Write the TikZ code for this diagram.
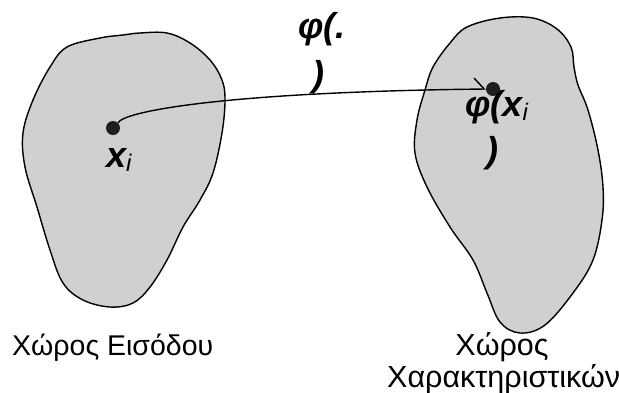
\documentclass[tikz,border=0pt]{standalone}
\usepackage{fontspec}
\setmainfont{Liberation Sans}
\usetikzlibrary{arrows.meta}
\definecolor{blobgray}{RGB}{208,208,208}
\definecolor{dotcol}{RGB}{30,30,30}
\newcommand{\subi}{\textmd{\fontsize{24}{26}\selectfont\itshape\raisebox{-4pt}{i}}}
\begin{document}
\begin{tikzpicture}[x=1pt,y=-1pt,
  blob/.style={draw=black,line width=1.4pt,fill=blobgray},
  pt/.style={circle,fill=dotcol,inner sep=0pt,minimum size=14pt},
  lbl/.style={inner sep=0pt,font=\fontsize{28.5}{32}\selectfont},
  rlbl/.style={inner sep=0pt,font=\fontsize{30.5}{34}\selectfont},
  mlbl/.style={inner sep=0pt,font=\fontsize{36}{40}\selectfont\bfseries\itshape},
  conn/.style={line width=1.4pt}]
\useasboundingbox (0,0) rectangle (619,392);
\clip (0,0) rectangle (619,392);
% left blob
\draw[blob] plot[smooth cycle,tension=0.6] coordinates {
 (67,47) (100,38) (123,35) (140,33) (167,33) (190,43) (210,60) (222,80) (225,100)
 (222,133) (213,173) (200,200) (183,227) (167,260) (150,287) (133,303) (110,307)
 (83,300) (63,283) (50,250) (37,207) (25,167) (23,133) (33,100) (50,67)};
% right blob
\draw[blob] plot[smooth cycle,tension=0.6] coordinates {
 (425,90) (433,67) (450,43) (467,27) (500,18) (533,18) (557,29) (571,47) (574,67)
 (578,85) (588,110) (598,150) (603,187) (602,220) (593,260) (573,293) (545,325)
 (520,333) (500,322) (487,293) (473,260) (450,227) (427,187) (415,153) (417,120)};
% points
\node[pt] (xi) at (113,128) {};
\node[pt] (phixi) at (493,89) {};
% mapping curve
\draw[conn,-{Straight Barb[harpoon,length=10pt,width=22pt,line width=1.4pt]}]
  (xi.45) .. controls (122,112) and (220,92) .. (phixi.west);
% labels
\node[mlbl,anchor=base west] (lx) at (106,167) {x\subi};
\node[mlbl,anchor=base west] (lphi) at (298,38) {φ(.};
\node[mlbl,anchor=base west] (lphic) at (312,86) {)};
\node[mlbl,anchor=base west] (lpx) at (465,116) {φ(x\subi};
\node[mlbl,anchor=base west] (lpxc) at (486,162) {)};
\node[lbl,anchor=base west] (in) at (12,355) {Χώρος Εισόδου};
\node[rlbl,anchor=base] (fs1) at (502,355) {Χώρος};
\node[rlbl,anchor=base west] (fs2) at (387,387) {Χαρακτηριστικών};
\end{tikzpicture}
\end{document}
